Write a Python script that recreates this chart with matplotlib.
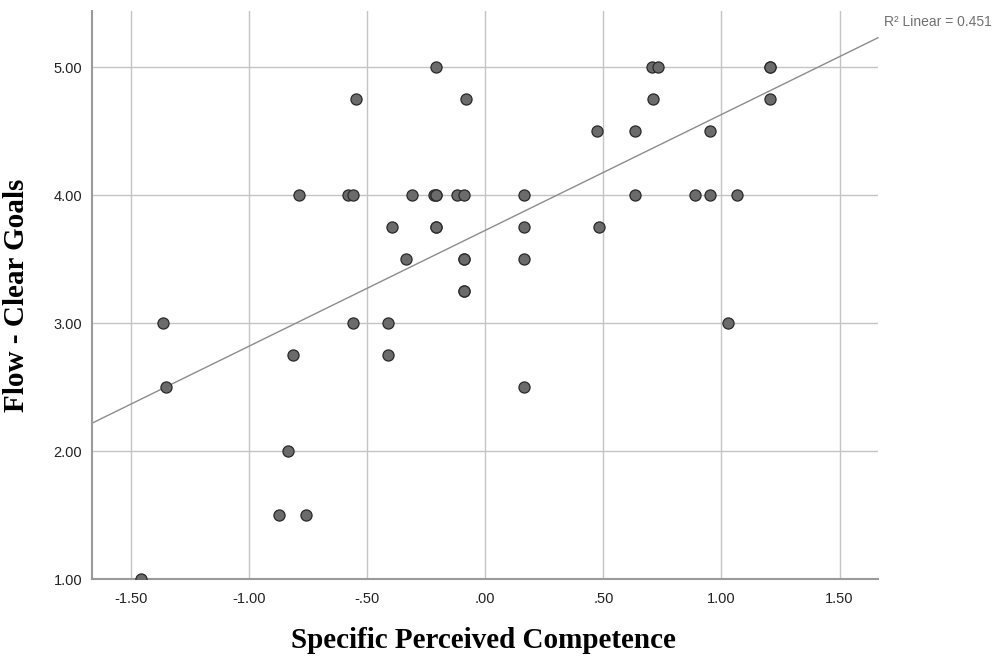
import matplotlib
matplotlib.use("Agg")
import matplotlib.pyplot as plt
import numpy as np

# Specific Perceived Competence (x) vs Flow - Clear Goals (y)
competence = [
    -0.207, 0.706, 0.731, 1.207, 1.207,
    -0.547, -0.083, 0.710, 1.207,
    0.475, 0.633, 0.953,
    -0.790, -0.581, -0.562, -0.310, -0.218, -0.207, -0.207, -0.121, -0.090,
    0.162, 0.633, 0.887, 0.953, 1.066,
    -0.396, -0.207, -0.207, 0.162, 0.482,
    -0.335, -0.090, -0.090, 0.162,
    -0.090, -0.090,
    -1.364, -0.562, -0.411, 1.028,
    -0.815, -0.411,
    -1.353, 0.162,
    -0.833,
    -0.874, -0.757,
    -1.457,
]
clear_goals = [
    5.00, 5.00, 5.00, 5.00, 5.00,
    4.75, 4.75, 4.75, 4.75,
    4.50, 4.50, 4.50,
    4.00, 4.00, 4.00, 4.00, 4.00, 4.00, 4.00, 4.00, 4.00,
    4.00, 4.00, 4.00, 4.00, 4.00,
    3.75, 3.75, 3.75, 3.75, 3.75,
    3.50, 3.50, 3.50, 3.50,
    3.25, 3.25,
    3.00, 3.00, 3.00, 3.00,
    2.75, 2.75,
    2.50, 2.50,
    2.00,
    1.50, 1.50,
    1.00,
]
# linear fit as shown on the chart (R^2 = 0.451)
fit_slope = 0.905
fit_intercept = 3.724

x_ticks = [-1.5, -1.0, -0.5, 0.0, 0.5, 1.0, 1.5]
x_labels = ["-1.50", "-1.00", "-.50", ".00", ".50", "1.00", "1.50"]
y_ticks = [1, 2, 3, 4, 5]
y_labels = ["1.00", "2.00", "3.00", "4.00", "5.00"]
r2_text = "R\u00b2 Linear = 0.451"

fig = plt.figure(figsize=(10.05, 6.67), dpi=100)
ax = fig.add_axes([0.0915, 0.1319, 0.782, 0.8516])

x = np.array(competence)
y = np.array(clear_goals)

xmin, xmax = -1.665, 1.662
ax.set_xlim(xmin, xmax)
ax.set_ylim(1.0, 5.4375)

# grid + ticks
ax.set_xticks(x_ticks)
ax.set_xticklabels(x_labels, fontsize=10.5, family="Liberation Sans", color="#222222")
ax.set_yticks(y_ticks)
ax.set_yticklabels(y_labels, fontsize=10.5, family="Liberation Sans", color="#222222")
ax.tick_params(axis="x", length=0, pad=9)
ax.tick_params(axis="y", length=0, pad=7)
ax.grid(True, color="#c4c4c4", linewidth=1.0)
ax.set_axisbelow(True)
for s in ["top", "right"]:
    ax.spines[s].set_visible(False)
for s in ["left", "bottom"]:
    ax.spines[s].set_color("#9a9a9a")
    ax.spines[s].set_linewidth(1.5)

# fit line across the whole x range
lx = np.array([xmin, xmax])
ax.plot(lx, fit_intercept + fit_slope * lx, color="#8c8c8c", linewidth=1.0,
        clip_on=False)

ax.scatter(x, y, s=64, color="#6b6b6b", edgecolors="#2a2a2a", linewidths=0.9,
           zorder=3)

fig.text(884 / 1005, 1 - 22 / 667, r2_text, fontsize=10, color="#707070",
         family="Liberation Sans", va="center", ha="left")

fig.text(483 / 1005, 1 - 641 / 667, "Specific Perceived Competence", fontsize=21,
         family="Liberation Serif", weight="bold", ha="center", va="center")
fig.text(17 / 1005, 1 - 295 / 667, "Flow - Clear Goals", fontsize=21,
         family="Liberation Serif", weight="bold", ha="center", va="center",
         rotation=90)

fig.savefig("out.png", dpi=100)
